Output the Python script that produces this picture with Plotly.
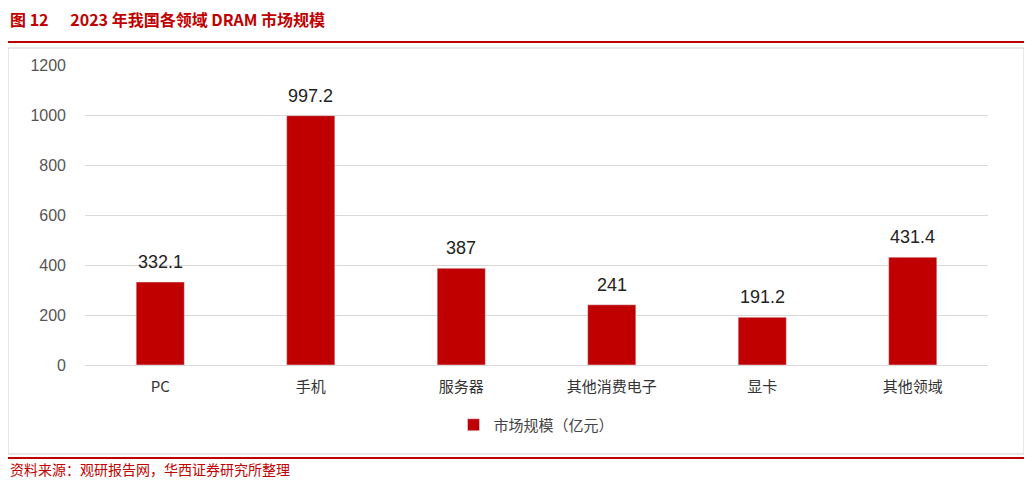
import plotly.graph_objects as go

categories = ["PC", "手机", "服务器", "其他消费电子", "显卡", "其他领域"]
values = [332.1, 997.2, 387, 241, 191.2, 431.4]
labels = ["332.1", "997.2", "387", "241", "191.2", "431.4"]

red = "#C00000"
W, H = 1032, 484
OFF = 8  # page body margin
L, R, T, B = 85 - OFF, 44 + OFF, 65 - OFF, 119 + OFF
def px(x): return (x - OFF - L) / (W - L - R)
def py(y): return (H - B - (y - OFF)) / (H - T - B)

fig = go.Figure(go.Bar(x=categories, y=values, marker_color=red, width=0.32,
                       name="市场规模（亿元）"))
for c, v, t in zip(categories, values, labels):
    fig.add_annotation(x=c, y=v, text=t, showarrow=False, yanchor="bottom", yshift=8,
                       font=dict(size=18, color="#222", family="Liberation Sans"))
fig.update_layout(
    width=W, height=H, plot_bgcolor="white", paper_bgcolor="white",
    margin=dict(l=L, r=R, t=T, b=B, autoexpand=False),
    font=dict(family="Noto Sans CJK SC", color="#444"),
    yaxis=dict(range=[0, 1200], dtick=200, gridcolor="#d9d9d9", zeroline=False,
               tickfont=dict(size=16, color="#555", family="Liberation Sans"), ticklabelstandoff=18),
    xaxis=dict(tickfont=dict(size=15, color="#333"), showline=True, linecolor="#d9d9d9",
               ticklabelstandoff=8),
    showlegend=True,
    legend=dict(orientation="h", x=0.5, xanchor="center", y=py(425), yanchor="middle",
                font=dict(size=15, color="#444"), bgcolor="rgba(0,0,0,0)"),
)
shapes = [
    dict(type="line", xref="paper", yref="paper", x0=px(5), x1=px(1027), y0=py(42), y1=py(42), line=dict(color=red, width=2)),
    dict(type="rect", xref="paper", yref="paper", x0=px(8), x1=px(1024), y0=py(48), y1=py(454), line=dict(color="#d0d0d0", width=1)),
    dict(type="line", xref="paper", yref="paper", x0=px(5), x1=px(1027), y0=py(458), y1=py(458), line=dict(color=red, width=2)),
]
fig.update_layout(shapes=shapes)
fig.add_annotation(xref="paper", yref="paper", x=px(8), y=py(19), xanchor="left", yanchor="middle",
                   text="<b>图 12      2023 年我国各领域 DRAM 市场规模</b>", showarrow=False,
                   font=dict(size=16, color=red, family="Noto Sans CJK SC"))
fig.add_annotation(xref="paper", yref="paper", x=px(8), y=py(469), xanchor="left", yanchor="middle",
                   text="资料来源：观研报告网，华西证券研究所整理", showarrow=False,
                   font=dict(size=14, color=red, family="Noto Sans CJK SC"))
fig.write_html("out.html")
